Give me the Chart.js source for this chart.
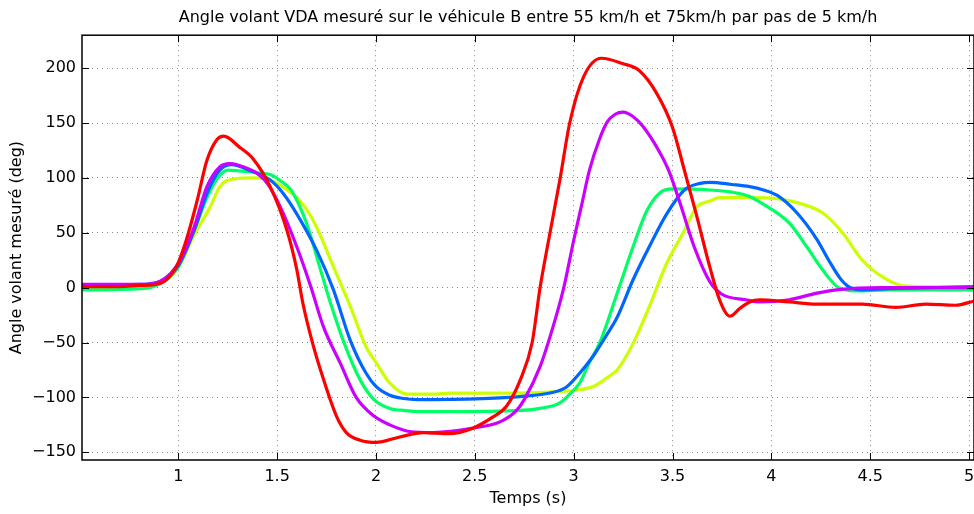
<!DOCTYPE html>
<html lang="fr">
<head>
<meta charset="UTF-8">
<title>Angle volant VDA</title>
<script src="https://cdn.jsdelivr.net/npm/chart.js"></script>
<style>
    body { margin: 0; padding: 0; background-color: #fff; }
    #wrap { width: 974px; height: 514px; overflow: hidden; }
</style>
</head>
<body>
<div id="wrap"><canvas id="angleChart" width="974" height="514"></canvas></div>
<script>
// graduations des axes
const xTicks = [1, 1.5, 2, 2.5, 3, 3.5, 4, 4.5, 5];
const yTicks = [-150, -100, -50, 0, 50, 100, 150, 200];

// courbes : temps (s) et angle volant (deg)
const redTime = [0.513, 0.7, 0.81, 0.91, 0.99, 1.04, 1.095, 1.145, 1.196, 1.23, 1.31, 1.38, 1.465, 1.55, 1.60, 1.63, 1.68, 1.73, 1.80, 1.85, 1.92, 2.0, 2.12, 2.24, 2.37, 2.49, 2.59, 2.66, 2.73, 2.79, 2.83, 2.873, 2.93, 2.98, 3.05, 3.14, 3.25, 3.33, 3.42, 3.50, 3.56, 3.62, 3.69, 3.74, 3.79, 3.84, 3.89, 3.94, 4.09, 4.23, 4.46, 4.63, 4.78, 4.93, 5.03];
const redAngle = [1, 1, 2, 4, 19, 43, 79, 116, 135, 138, 128, 117, 92, 52, 16, -14, -51, -81, -117, -132, -139, -141, -136, -132, -133, -128, -118, -108, -84, -50, 0, 43, 98, 150, 192, 209, 204, 198, 177, 146, 107, 67, 18, -12, -26, -19, -13, -11, -13, -15, -15, -18, -15, -16, -12];

const purpleTime = [0.513, 0.81, 0.91, 1.01, 1.08, 1.145, 1.21, 1.26, 1.36, 1.40, 1.45, 1.515, 1.60, 1.67, 1.735, 1.82, 1.90, 1.99, 2.07, 2.17, 2.29, 2.49, 2.63, 2.71, 2.75, 2.83, 2.90, 2.95, 3.0, 3.04, 3.08, 3.13, 3.17, 3.21, 3.25, 3.30, 3.35, 3.43, 3.48, 3.54, 3.61, 3.69, 3.75, 3.87, 3.94, 4.09, 4.23, 4.33, 4.56, 5.03];
const purpleAngle = [3, 3, 6, 25, 55, 92, 110, 113, 108, 104, 95, 74, 37, 1, -36, -69, -100, -117, -125, -131, -132, -128, -122, -112, -102, -72, -33, 0, 43, 75, 107, 135, 151, 158, 160, 156, 147, 125, 107, 76, 37, 5, -6, -11, -13, -11, -5, -2, 0, 0];

const blueTime = [0.513, 0.81, 0.91, 1.0, 1.08, 1.15, 1.21, 1.27, 1.36, 1.465, 1.53, 1.60, 1.70, 1.785, 1.87, 1.95, 2.0, 2.07, 2.14, 2.21, 2.54, 2.74, 2.88, 2.96, 3.03, 3.10, 3.16, 3.22, 3.30, 3.39, 3.47, 3.56, 3.64, 3.69, 3.80, 3.89, 3.96, 4.03, 4.13, 4.23, 4.29, 4.35, 4.39, 4.46, 4.6, 5.03];
const blueAngle = [2, 3, 6, 20, 52, 88, 107, 112, 107, 98, 86, 67, 34, -2, -48, -78, -90, -98, -101, -102, -101, -99, -96, -91, -78, -62, -45, -27, 7, 40, 67, 89, 95, 96, 94, 92, 89, 84, 68, 44, 25, 8, 1, -2, -1, 1];

const greenTime = [0.513, 0.81, 0.91, 1.0, 1.08, 1.145, 1.2, 1.25, 1.38, 1.465, 1.52, 1.57, 1.65, 1.72, 1.77, 1.84, 1.92, 1.99, 2.07, 2.15, 2.21, 2.71, 2.83, 2.93, 2.98, 3.03, 3.08, 3.13, 3.22, 3.30, 3.37, 3.44, 3.50, 3.69, 3.80, 3.89, 3.95, 4.09, 4.18, 4.26, 4.34, 4.43, 4.6, 5.03];
const greenAngle = [-2, -1, 4, 19, 52, 82, 100, 107, 105, 103, 97, 89, 58, 16, -14, -51, -84, -102, -110, -112, -113, -112, -110, -105, -97, -87, -68, -51, -5, 37, 70, 87, 90, 89, 87, 83, 77, 59, 37, 16, 0, -3, -2, -2];

const yellowTime = [0.513, 0.81, 0.91, 1.0, 1.08, 1.16, 1.21, 1.28, 1.38, 1.465, 1.55, 1.60, 1.65, 1.70, 1.785, 1.87, 1.95, 2.0, 2.07, 2.16, 2.29, 2.37, 2.71, 2.97, 3.03, 3.10, 3.13, 3.20, 3.22, 3.30, 3.39, 3.47, 3.56, 3.62, 3.69, 3.74, 3.89, 4.03, 4.14, 4.26, 4.36, 4.46, 4.56, 4.66, 4.8, 5.03];
const yellowAngle = [-1, 0, 4, 18, 48, 73, 92, 99, 100, 98, 89, 82, 71, 55, 19, -17, -54, -68, -87, -97, -97, -96, -96, -94, -93, -90, -87, -78, -75, -51, -14, 22, 52, 73, 79, 82, 82, 81, 77, 68, 50, 25, 10, 2, 1, 1];

function points(times, angles) {
    return times.map((t, i) => ({ x: t, y: angles[i] }));
}

const police = '"DejaVu Sans", Verdana, sans-serif';

// cadre noir + petites graduations vers l'intérieur (style matlab)
const cadre = {
    id: 'cadre',
    afterDraw(chart) {
        const { ctx, chartArea: a, scales: { x, y } } = chart;
        ctx.save();
        ctx.strokeStyle = '#000';
        ctx.lineWidth = 1.5;
        ctx.strokeRect(a.left, a.top, a.right - a.left, a.bottom - a.top);
        ctx.lineWidth = 1;
        ctx.beginPath();
        xTicks.forEach(v => {
            const px = Math.round(x.getPixelForValue(v)) + 0.5;
            ctx.moveTo(px, a.bottom); ctx.lineTo(px, a.bottom - 7);
            ctx.moveTo(px, a.top); ctx.lineTo(px, a.top + 7);
        });
        yTicks.forEach(v => {
            const py = Math.round(y.getPixelForValue(v)) + 0.5;
            ctx.moveTo(a.left, py); ctx.lineTo(a.left + 7, py);
            ctx.moveTo(a.right, py); ctx.lineTo(a.right - 7, py);
        });
        ctx.stroke();
        ctx.restore();
    }
};

function serie(label, times, angles, color) {
    return {
        label: label,
        data: points(times, angles),
        borderColor: color,
        backgroundColor: color,
        borderWidth: 3.2,
        pointRadius: 0,
        fill: false,
        cubicInterpolationMode: 'monotone'
    };
}

new Chart(document.getElementById('angleChart'), {
    type: 'line',
    data: {
        // le premier jeu est dessiné au-dessus
        datasets: [
            serie('rouge', redTime, redAngle, '#ff0000'),
            serie('violet', purpleTime, purpleAngle, '#cc00ff'),
            serie('bleu', blueTime, blueAngle, '#0066ff'),
            serie('vert', greenTime, greenAngle, '#00ff66'),
            serie('jaune', yellowTime, yellowAngle, '#ccff00')
        ]
    },
    options: {
        responsive: false,
        animation: false,
        layout: { padding: { left: 0, right: 0, top: 0, bottom: 0 } },
        plugins: {
            legend: { display: false },
            tooltip: { enabled: false },
            title: {
                display: true,
                fullSize: false,
                text: 'Angle volant VDA mesuré sur le véhicule B entre 55 km/h et 75km/h par pas de 5 km/h',
                color: '#000',
                font: { family: police, size: 16, weight: 'normal' },
                padding: { top: 8, bottom: 8 }
            }
        },
        scales: {
            x: {
                type: 'linear',
                min: 0.513,
                max: 5.025,
                afterBuildTicks: s => { s.ticks = xTicks.map(v => ({ value: v })); },
                afterFit: s => { s.height = 54; s.paddingLeft = 0; s.paddingRight = 0; },
                ticks: {
                    color: '#000',
                    padding: 7,
                    maxRotation: 0,
                    autoSkip: false,
                    font: { family: police, size: 16 },
                    callback: v => String(v)
                },
                grid: { color: '#888', lineWidth: 1, drawTicks: false },
                border: { display: false, dash: [1, 4] },
                title: {
                    display: true,
                    text: 'Temps (s)',
                    color: '#000',
                    font: { family: police, size: 16 },
                    padding: { top: 0, bottom: 6 }
                }
            },
            y: {
                min: -157,
                max: 230,
                afterBuildTicks: s => { s.ticks = yTicks.map(v => ({ value: v })); },
                afterFit: s => { s.width = 82; s.paddingTop = 0; s.paddingBottom = 0; },
                ticks: {
                    color: '#000',
                    padding: 6,
                    font: { family: police, size: 16 },
                    callback: v => v < 0 ? '\u2212' + Math.abs(v) : String(v)
                },
                grid: { color: '#888', lineWidth: 1, drawTicks: false },
                border: { display: false, dash: [1, 4] },
                title: {
                    display: true,
                    text: 'Angle volant mesuré (deg)',
                    color: '#000',
                    font: { family: police, size: 16 },
                    padding: { top: 7, bottom: 0 }
                }
            }
        }
    },
    plugins: [cadre]
});
</script>
</body>
</html>
